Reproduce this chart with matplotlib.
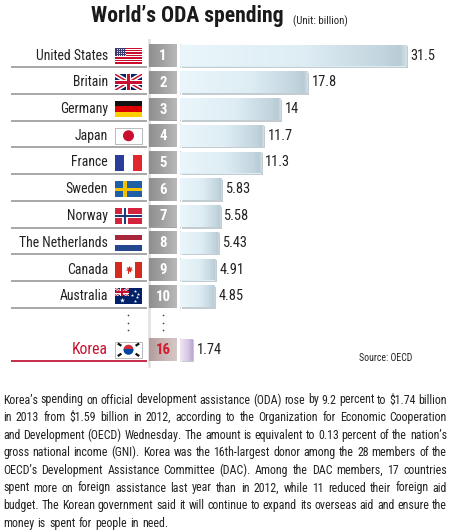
import numpy as np
import matplotlib
matplotlib.use("Agg")
import matplotlib.pyplot as plt
import matplotlib.transforms as mtrans
from matplotlib import font_manager
from matplotlib.patches import Rectangle, Circle, Wedge
from matplotlib.colors import LinearSegmentedColormap

# ---------------- data ----------------
countries = ["United States", "Britain", "Germany", "Japan", "France", "Sweden",
             "Norway", "The Netherlands", "Canada", "Australia", "Korea"]
ranks = ["1", "2", "3", "4", "5", "6", "7", "8", "9", "10", "16"]
values = [31.5, 17.8, 14, 11.7, 11.3, 5.83, 5.58, 5.43, 4.91, 4.85, 1.74]
value_labels = ["31.5", "17.8", "14", "11.7", "11.3", "5.83", "5.58", "5.43", "4.91", "4.85", "1.74"]
flags = ["us", "uk", "de", "jp", "fr", "se", "no", "nl", "ca", "au", "kr"]
title = "World\u2019s ODA spending"
unit = "(Unit: billion)"
source = "Source: OECD"
paragraph = [
    "Korea\u2019s spending on official development assistance (ODA) rose by 9.2 percent to $1.74 billion",
    "in 2013 from $1.59 billion in 2012, according to the Organization for Economic Cooperation",
    "and Development (OECD) Wednesday. The amount is equivalent to 0.13 percent of the nation\u2019s",
    "gross national income (GNI). Korea was the 16th-largest donor among the 28 members of the",
    "OECD\u2019s Development Assistance Committee (DAC). Among the DAC members, 17 countries",
    "spent more on foreign assistance last year than in 2012, while 11 reduced their foreign aid",
    "budget. The Korean government said it will continue to expand its overseas aid and ensure the",
    "money is spent for people in need.",
]

# ---------------- fonts ----------------
installed = {f.name for f in font_manager.fontManager.ttflist}
NARROW = next((n for n in ["Liberation Sans Narrow", "Roboto Condensed", "Open Sans Condensed",
                           "Roboto", "Liberation Sans"] if n in installed), "DejaVu Sans")
FAM = [NARROW, "DejaVu Sans"]

W, H = 450, 532
fig = plt.figure(figsize=(W / 100, H / 100), dpi=100)
fig.patch.set_facecolor("white")
renderer = fig.canvas.get_renderer()

bg = fig.add_axes([0, 0, 1, 1])
bg.set_xlim(0, W)
bg.set_ylim(H, 0)
bg.axis("off")


def fit_size(s, target, base=10, **kw):
    t = bg.text(0, 0, s, fontsize=base, family=FAM, parse_math=False, **kw)
    w = t.get_window_extent(renderer).width
    t.remove()
    return base * target / w


# layout
PX_PER_UNIT = 7.175
BAR_X0 = 180
pitch = 26.75
row_idx = np.array(list(range(10)) + [11])
row_y = 55.5 + pitch * row_idx
bar_h = 22
is_korea = [c == "Korea" for c in countries]

ax = fig.add_axes([BAR_X0 / W, 0, (W - BAR_X0) / W, 1])
ax.set_xlim(0, (W - BAR_X0) / PX_PER_UNIT)
ax.set_ylim(H, 0)
ax.axis("off")
ax.patch.set_alpha(0)

blue_cmap = LinearSegmentedColormap.from_list(
    "b", [(0, "#eaf6fb"), (0.55, "#deedf4"), (0.9, "#c2d4de"), (0.97, "#b8cbd6"), (1, "#d2dfe6")])
purple_cmap = LinearSegmentedColormap.from_list(
    "p", [(0, "#efe6f3"), (0.6, "#d9c9e6"), (1, "#b9a5d0")])
gray_cmap = LinearSegmentedColormap.from_list("g", ["#8f8f8f", "#a2a2a2", "#b9b9b9"])
kgray_cmap = LinearSegmentedColormap.from_list("kg", ["#b39b9b", "#c9b4b4", "#d6c8c8"])
grad = np.linspace(0, 1, 256).reshape(1, -1)

# shadow bars + gradient bars
shadow_tr = mtrans.offset_copy(ax.transData, fig=fig, x=1.5, y=-1.5, units="dots")
ax.barh(row_y, values, height=bar_h, color="#c3ccd1", transform=shadow_tr, zorder=1)
bars = ax.barh(row_y, values, height=bar_h, color="#dcecf3", zorder=2)
for b, v, y, k in zip(bars, values, row_y, is_korea):
    im = ax.imshow(grad, extent=[0, v, y + bar_h / 2, y - bar_h / 2], aspect="auto",
                   cmap=purple_cmap if k else blue_cmap, zorder=3)
    im.set_clip_path(b)
ax.set_xlim(0, (W - BAR_X0) / PX_PER_UNIT)
ax.set_ylim(H, 0)

val_fs = fit_size("31.5", 25)
for v, y, lab in zip(values, row_y, value_labels):
    ax.annotate(lab, (v, y), xytext=(4, 0), textcoords="offset pixels", ha="left", va="center",
                fontsize=val_fs, family=FAM, color="#222222", zorder=5)

# vertical light band
bg.plot([148.5, 148.5], [40, 366], color="#e2e2e2", lw=2, zorder=1)

# rank boxes
rank_fs = fit_size("10", 15, weight="bold")
for y, r, k in zip(row_y, ranks, is_korea):
    rect_ = Rectangle((149, y - 11.5), 28, 23, facecolor="#a0a0a0", edgecolor="none", zorder=2)
    bg.add_patch(rect_)
    im = bg.imshow(grad, extent=[149, 177, y + 11.5, y - 11.5], aspect="auto",
                   cmap=kgray_cmap if k else gray_cmap, zorder=3)
    im.set_clip_path(rect_)
    bg.plot([178, 178], [y - 11.5, y + 11.5], color="white", lw=1.0, ls=(0, (1.5, 1.2)), zorder=4)
    bg.plot([179.5, 179.5], [y - 11.5, y + 11.5], color="#c8c8c8", lw=0.6, zorder=4)
    bg.text(163, y + 0.5, r, ha="center", va="center", fontsize=rank_fs, weight="bold",
            family=FAM, color="#d01c2c" if k else "white", zorder=5)

# labels and underlines
lab_fs = fit_size("United States", 72)
kor_fs = fit_size("Korea", 36)
for y, c, k in zip(row_y, countries, is_korea):
    bg.text(108, y, c, ha="right", va="center", fontsize=kor_fs if k else lab_fs,
            family=FAM, color="#c8102e" if k else "#222222", zorder=5)
    bg.plot([11, 147], [y + 11.5, y + 11.5], color="#c01c3c" if k else "#a0a0a0",
            lw=1.3, solid_capstyle="butt", zorder=2)


# ---------------- flags ----------------
def rect(x, y, w, h, c, z=4):
    p = Rectangle((x, y), w, h, facecolor=c, edgecolor="none", zorder=z)
    bg.add_patch(p)
    return p


def union(x, y, w, h):
    base = rect(x, y, w, h, "#012169")
    cx, cy = x + w / 2, y + h / 2
    s = h / 16
    for (x1, y1, x2, y2) in [(x, y, x + w, y + h), (x, y + h, x + w, y)]:
        l, = bg.plot([x1, x2], [y1, y2], color="white", lw=3.4 * s, zorder=5)
        l.set_clip_path(base)
        l, = bg.plot([x1, x2], [y1, y2], color="#c8102e", lw=1.1 * s, zorder=6)
        l.set_clip_path(base)
    rect(cx - h * 0.17, y, h * 0.34, h, "white", z=7)
    rect(x, cy - h * 0.17, w, h * 0.34, "white", z=7)
    rect(cx - h * 0.1, y, h * 0.2, h, "#c8102e", z=8)
    rect(x, cy - h * 0.1, w, h * 0.2, "#c8102e", z=8)


def draw_flag(kind, x, y, w, h):
    if kind == "us":
        for i in range(13):
            rect(x, y + i * h / 13, w, h / 13 + 0.05, "#c8102e" if i % 2 == 0 else "white")
        rect(x, y, w * 0.42, h * 7 / 13, "#3c3b6e", z=5)
        xs, ys = np.meshgrid(np.linspace(x + 1.5, x + w * 0.42 - 1.5, 5),
                             np.linspace(y + 1.3, y + h * 7 / 13 - 1.3, 4))
        bg.scatter(xs.ravel(), ys.ravel(), s=0.4, color="white", lw=0, zorder=6)
    elif kind == "uk":
        union(x, y, w, h)
    elif kind == "de":
        for i, c in enumerate(["#111111", "#dd0000", "#ffce00"]):
            rect(x, y + i * h / 3, w, h / 3 + 0.05, c)
    elif kind == "jp":
        bg.add_patch(Rectangle((x, y), w, h, facecolor="white", edgecolor="#b0b0b0", lw=0.6, zorder=4))
        bg.add_patch(Circle((x + w / 2, y + h / 2), h * 0.3, color="#c8102e", zorder=5))
    elif kind == "fr":
        for i, c in enumerate(["#2b3d9b", "white", "#e1262d"]):
            rect(x + i * w / 3, y, w / 3 + 0.05, h, c)
    elif kind == "se":
        rect(x, y, w, h, "#1f5fa8")
        rect(x + w * 0.3, y, w * 0.14, h, "#f2c200", z=5)
        rect(x, y + h * 0.4, w, h * 0.2, "#f2c200", z=5)
    elif kind == "no":
        rect(x, y, w, h, "#d2243c")
        rect(x + w * 0.27, y, w * 0.2, h, "white", z=5)
        rect(x, y + h * 0.36, w, h * 0.28, "white", z=5)
        rect(x + w * 0.32, y, w * 0.1, h, "#1f3a78", z=6)
        rect(x, y + h * 0.43, w, h * 0.14, "#1f3a78", z=6)
    elif kind == "nl":
        for i, c in enumerate(["#a8263b", "white", "#24488f"]):
            rect(x, y + i * h / 3, w, h / 3 + 0.05, c)
    elif kind == "ca":
        rect(x, y, w, h, "white")
        rect(x, y, w * 0.25, h, "#d52b1e", z=5)
        rect(x + w * 0.75, y, w * 0.25, h, "#d52b1e", z=5)
        bg.scatter([x + w / 2], [y + h / 2 - 0.5], marker=(7, 1, 0), s=30, color="#d52b1e", lw=0, zorder=6)
        rect(x + w / 2 - 0.4, y + h / 2 + 1, 0.8, 3.5, "#d52b1e", z=6)
    elif kind == "au":
        rect(x, y, w, h, "#012169")
        union(x, y, w / 2, h / 2)
        bg.scatter([x + w * 0.25], [y + h * 0.76], marker="*", s=14, color="white", lw=0, zorder=9)
        bg.scatter([x + w * 0.75, x + w * 0.62, x + w * 0.87, x + w * 0.75, x + w * 0.8],
                   [y + h * 0.2, y + h * 0.45, y + h * 0.38, y + h * 0.82, y + h * 0.55],
                   marker="*", s=6, color="white", lw=0, zorder=9)
    elif kind == "kr":
        bg.add_patch(Rectangle((x, y), w, h, facecolor="white", edgecolor="#b0b0b0", lw=0.6, zorder=4))
        cx, cy, r = x + w / 2, y + h / 2, h * 0.27
        bg.add_patch(Wedge((cx, cy), r, 180, 360, color="#cd2e3a", zorder=5))
        bg.add_patch(Wedge((cx, cy), r, 0, 180, color="#0047a0", zorder=5))
        for dx, dy in [(-1, -1), (1, -1), (-1, 1), (1, 1)]:
            px, py = cx + dx * w * 0.33, cy + dy * h * 0.32
            bg.plot([px - 1.8, px + 1.8], [py - 1.2 * dx * dy, py + 1.2 * dx * dy],
                    color="#111111", lw=1.6, zorder=5, solid_capstyle="butt")


for y, f in zip(row_y, flags):
    draw_flag(f, 115, y - 8, 27, 16)

# continuation dots
for xd in (128, 163):
    bg.scatter([xd] * 3, [315, 322.5, 330], s=1.5, color="#444444", lw=0, zorder=5)

# titles
title_fs = fit_size(title, 193, weight="bold")
bg.text(187.5, 16, title, ha="center", va="center", fontsize=title_fs, weight="bold",
        family=FAM, color="#1a1a1a")
bg.text(293, 21, unit, ha="left", va="center", fontsize=fit_size(unit, 54), family=FAM,
        color="#222222")
bg.text(359, 358, source, ha="left", va="center", fontsize=fit_size(source, 53), family=FAM,
        color="#222222")

# ---------------- paragraph, justified ----------------
LEFT, RIGHT = 3, 447
para_fs = min(fit_size(line, RIGHT - LEFT - 3, base=10) for line in paragraph)
for i, line in enumerate(paragraph):
    yy = 400 + 17.6 * i
    words = line.split(" ")
    objs = [bg.text(0, yy, wd, ha="left", va="center", fontsize=para_fs, family=FAM,
                    color="#222222", parse_math=False) for wd in words]
    widths = [o.get_window_extent(renderer).width for o in objs]
    if i < len(paragraph) - 1:
        gap = (RIGHT - LEFT - sum(widths)) / (len(words) - 1)
    else:
        gap = 0.28 * para_fs * 100 / 72
    xx = LEFT
    for o, wdt in zip(objs, widths):
        o.set_x(xx)
        xx += wdt + gap

fig.savefig("out.png", dpi=100)
